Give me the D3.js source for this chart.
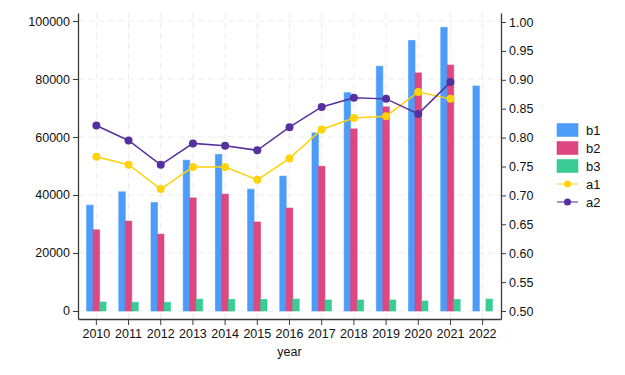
<!DOCTYPE html>
<html><head><meta charset="utf-8">
<script src="https://cdn.jsdelivr.net/npm/d3@7"></script>
<style>
body{margin:0;background:#fff;}
svg{display:block;font-family:"Liberation Sans",Arial,sans-serif;}
</style></head>
<body>
<svg id="chart" width="625" height="375"></svg>
<script>
const years = ["2010","2011","2012","2013","2014","2015","2016","2017","2018","2019","2020","2021","2022"];
const b1 = [36500,41100,37400,52000,54000,42000,46500,61400,75300,84400,93300,97800,77600];
const b2 = [28000,31000,26500,39000,40300,30700,35500,49900,62800,70400,82100,84800,null];
const b3 = [3100,3000,3000,4100,4000,4000,4100,3800,3800,3800,3450,4000,4100];
const a1 = [0.767,0.753,0.711,0.749,0.749,0.727,0.764,0.814,0.834,0.837,0.879,0.867,null];
const a2 = [0.821,0.795,0.753,0.790,0.786,0.778,0.818,0.853,0.869,0.867,0.841,0.896,null];
const leftTicks = [0,20000,40000,60000,80000,100000];
const rightTicks = [0.50,0.55,0.60,0.65,0.70,0.75,0.80,0.85,0.90,0.95,1.00];
const barSeries = [
  {name:"b1", values:b1, color:"#4597fa"},
  {name:"b2", values:b2, color:"#dc3d78"},
  {name:"b3", values:b3, color:"#2ec98f"}
];
const lineSeries = [
  {name:"a1", values:a1, color:"#ffd20a"},
  {name:"a2", values:a2, color:"#55309e"}
];

const svg = d3.select("#chart");
const L = 78, R = 501, T = 13, B = 319;
const x = d3.scaleBand().domain(years).range([L, R]).paddingInner(0).paddingOuter(0.07);
const yL = d3.scaleLinear().domain([-2759, 102759]).range([B, T]);
const yR = d3.scaleLinear().domain([0.5 - 8/578, 1.0 + 9/578]).range([B, T]);
const gridColor = "#ececec";

// grid
const g = svg.append("g");
g.selectAll(".vg").data(years).join("line")
  .attr("x1", d => x(d) + x.bandwidth()/2).attr("x2", d => x(d) + x.bandwidth()/2)
  .attr("y1", T).attr("y2", B)
  .attr("stroke", gridColor).attr("stroke-dasharray", "6,4").attr("stroke-width", 1);
g.selectAll(".hg").data(leftTicks).join("line")
  .attr("x1", L).attr("x2", R)
  .attr("y1", d => yL(d)).attr("y2", d => yL(d))
  .attr("stroke", gridColor).attr("stroke-dasharray", "6,4").attr("stroke-width", 1);

// bars
const bw = 6.5;
const x1 = d3.scaleBand().domain(barSeries.map(s => s.name)).range([-bw*1.5, bw*1.5]);
barSeries.forEach(s => {
  svg.append("g").selectAll("rect")
    .data(years.map((yr, i) => ({yr, v: s.values[i]})).filter(d => d.v != null))
    .join("rect")
    .attr("x", d => x(d.yr) + x.bandwidth()/2 + x1(s.name))
    .attr("width", x1.bandwidth())
    .attr("y", d => yL(d.v))
    .attr("height", d => yL(0) - yL(d.v))
    .attr("fill", s.color).attr("fill-opacity", 0.95)
    .attr("stroke", s.color).attr("stroke-opacity", 0.55).attr("stroke-width", 1);
});

// lines
lineSeries.forEach(s => {
  const pts = years.map((yr, i) => ({yr, v: s.values[i]})).filter(d => d.v != null);
  svg.append("path").datum(pts)
    .attr("fill", "none").attr("stroke", s.color).attr("stroke-width", 1.5)
    .attr("d", d3.line().x(d => x(d.yr) + x.bandwidth()/2).y(d => yR(d.v)));
  svg.append("g").selectAll("circle").data(pts).join("circle")
    .attr("cx", d => x(d.yr) + x.bandwidth()/2).attr("cy", d => yR(d.v))
    .attr("r", 4).attr("fill", s.color);
});

// axes
const axisColor = "#3a3a3a";
const styleAxis = sel => {
  sel.select(".domain").attr("stroke", axisColor).attr("stroke-width", 1.3);
  sel.selectAll(".tick line").attr("stroke", axisColor);
  sel.selectAll(".tick text").attr("fill", "#111").attr("font-size", "12.5px")
     .attr("font-family", "\"Liberation Sans\",Arial,sans-serif");
};
svg.append("g").attr("transform", `translate(${L},0)`)
  .call(d3.axisLeft(yL).tickValues(leftTicks).tickSize(5).tickSizeOuter(0).tickPadding(3).tickFormat(d3.format("d")))
  .call(styleAxis);
svg.append("g").attr("transform", `translate(${R},0)`)
  .call(d3.axisRight(yR).tickValues(rightTicks).tickSize(5).tickSizeOuter(0).tickPadding(3).tickFormat(d3.format(".2f")))
  .call(styleAxis);
svg.append("g").attr("transform", `translate(0,${B})`)
  .call(d3.axisBottom(x).tickSize(6).tickSizeOuter(0).tickPadding(4))
  .call(styleAxis);
svg.append("text").attr("x", (L+R)/2).attr("y", 356).attr("text-anchor", "middle")
  .attr("font-size", "12.5px").attr("fill", "#111").text("year");

// legend
const lg = svg.append("g").attr("transform", "translate(557,0)");
const legendY = [130, 148, 166, 184, 202];
barSeries.forEach((s, i) => {
  lg.append("rect").attr("x", 0).attr("y", legendY[i] - 6.5).attr("width", 21).attr("height", 13)
    .attr("fill", s.color).attr("fill-opacity", 0.95).attr("stroke", s.color).attr("stroke-opacity", 0.55);
  lg.append("text").attr("x", 29).attr("y", legendY[i]).attr("dy", "0.35em")
    .attr("font-size", "13px").attr("fill", "#111").text(s.name);
});
lineSeries.forEach((s, j) => {
  const yy = legendY[3 + j];
  lg.append("line").attr("x1", 0).attr("x2", 21).attr("y1", yy).attr("y2", yy)
    .attr("stroke", s.color).attr("stroke-width", 1.5).attr("stroke-opacity", 0.7);
  lg.append("circle").attr("cx", 10.5).attr("cy", yy).attr("r", 3.5).attr("fill", s.color);
  lg.append("text").attr("x", 29).attr("y", yy).attr("dy", "0.35em")
    .attr("font-size", "13px").attr("fill", "#111").text(s.name);
});
</script>
</body></html>
